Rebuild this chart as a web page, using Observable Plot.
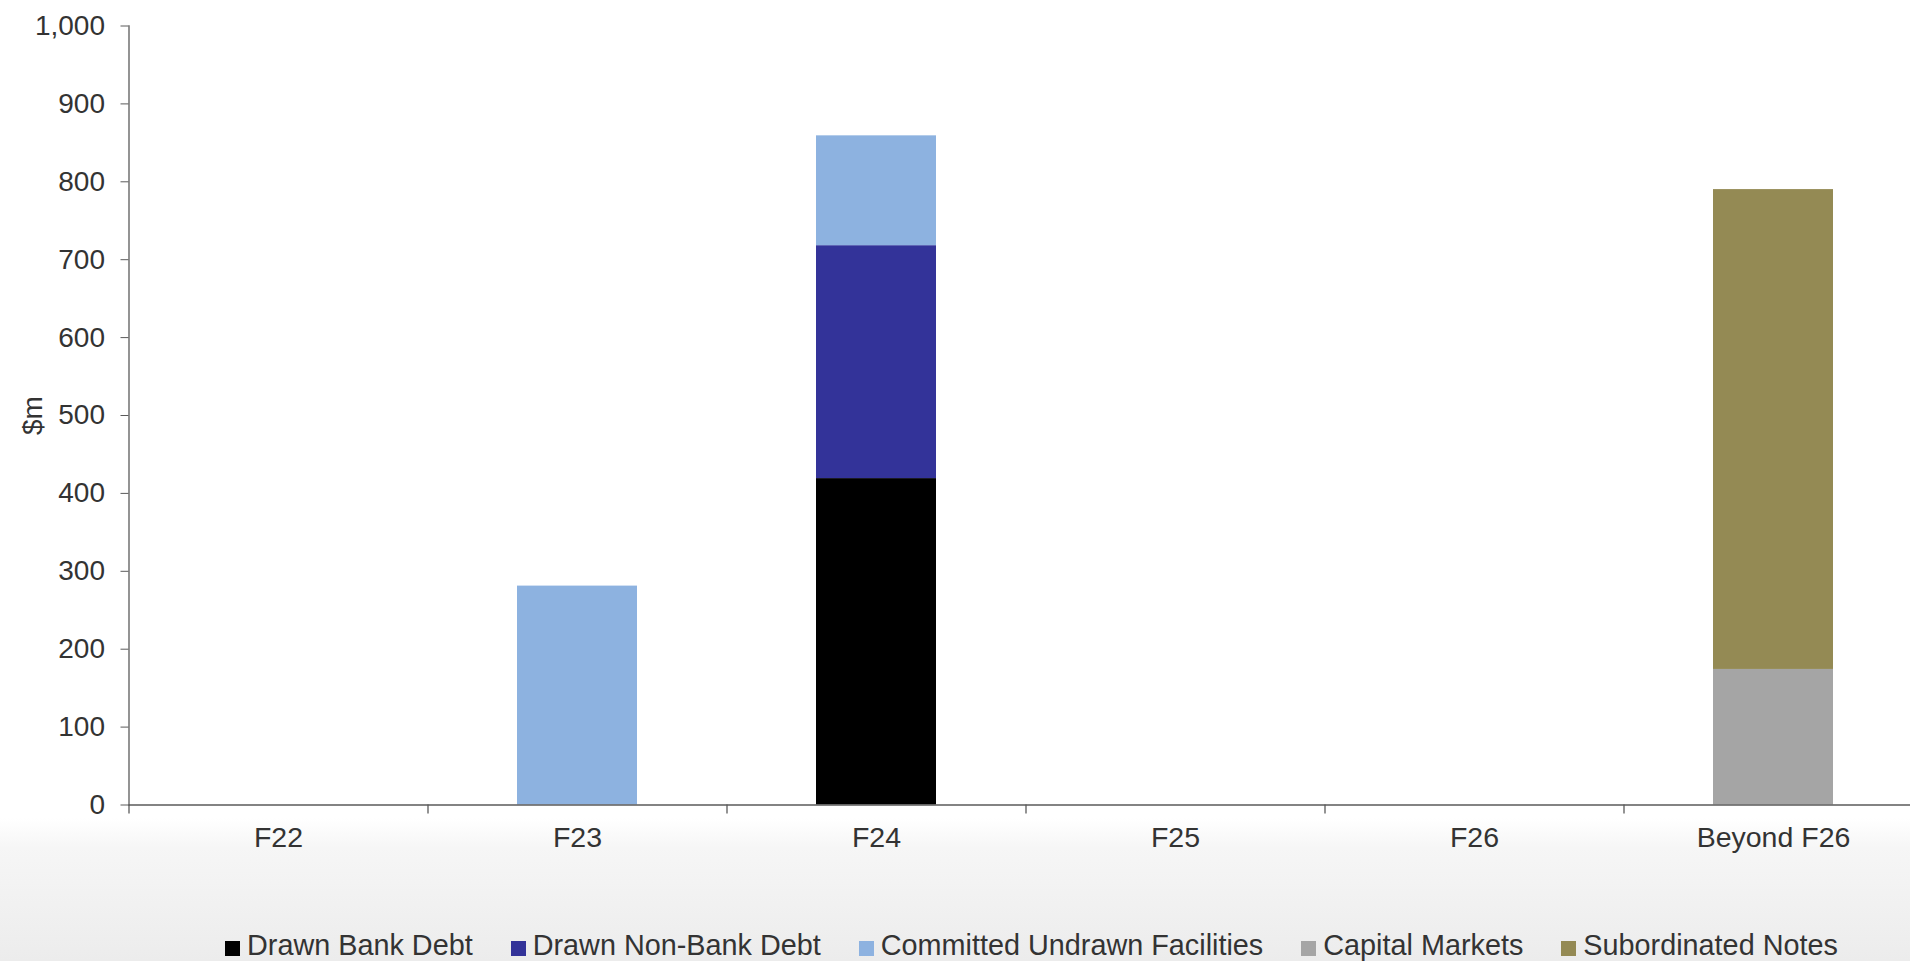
<!DOCTYPE html>
<html>
<head>
<meta charset="utf-8">
<script src="https://cdn.jsdelivr.net/npm/d3@7"></script>
<script src="https://cdn.jsdelivr.net/npm/@observablehq/plot@0.6"></script>
<style>
  html, body { margin: 0; padding: 0; width: 1910px; height: 961px; overflow: hidden; }
  body {
    position: relative;
    font-family: "Liberation Sans", Arial, sans-serif;
    background: linear-gradient(to bottom, #ffffff 0px, #ffffff 818px, #f6f6f6 848px, #ececec 961px);
  }
  #chart { position: absolute; left: 0; top: 0; }
  #legend {
    position: absolute; left: 225px; top: 929px;
    display: flex; align-items: center; gap: 38px;
    font-size: 28.8px; color: #333; white-space: nowrap;
  }
  #legend .item { display: flex; align-items: center; gap: 7px; }
  #legend .sw { width: 15px; height: 15px; display: inline-block; margin-top: 5px; }
</style>
</head>
<body>
<div id="chart"></div>
<div id="legend"></div>
<script>
const categories = ["F22", "F23", "F24", "F25", "F26", "Beyond F26"];
const series = ["Drawn Bank Debt", "Drawn Non-Bank Debt", "Committed Undrawn Facilities", "Capital Markets", "Subordinated Notes"];
const drawnBankDebt = [0, 0, 419, 0, 0, 0];
const drawnNonBankDebt = [0, 0, 299, 0, 0, 0];
const committedUndrawn = [0, 281, 141, 0, 0, 0];
const capitalMarkets = [0, 0, 0, 0, 0, 174];
const subordinatedNotes = [0, 0, 0, 0, 0, 616];
const colors = ["#000000", "#333399", "#8db2e0", "#a5a5a5", "#948a54"];
const yTicks = [0, 100, 200, 300, 400, 500, 600, 700, 800, 900, 1000];

const seriesValues = [drawnBankDebt, drawnNonBankDebt, committedUndrawn, capitalMarkets, subordinatedNotes];
const data = [];
series.forEach((s, si) => categories.forEach((c, ci) => data.push({cat: c, series: s, value: seriesValues[si][ci]})));

const width = 1923, height = 864, marginLeft = 128.5, marginRight = 0.5, marginTop = 25.5, marginBottom = 59.5;
const step = (width - marginLeft - marginRight) / categories.length;

const chart = Plot.plot({
  width, height, marginLeft, marginRight, marginTop, marginBottom,
  style: "background: transparent; max-width: none; overflow: visible; font-family: 'Liberation Sans', Arial, sans-serif; color: #333;",
  x: {domain: categories, paddingInner: 0.6, paddingOuter: 0.3, axis: null},
  y: {domain: [0, 1000], axis: null},
  color: {domain: series, range: colors},
  marks: [
    Plot.barY(data, Plot.stackY({x: "cat", y: "value", fill: "series", order: series})),
    Plot.frame({anchor: "left", stroke: "#5a5a5a", strokeWidth: 1.3}),
    Plot.ruleY([0], {stroke: "#5a5a5a", strokeWidth: 1.3}),
    Plot.ruleX(categories, {x: d => d, dx: -step / 2, stroke: "#5a5a5a", strokeWidth: 1.3, insetTop: height - marginTop - marginBottom, insetBottom: -9}),
    Plot.axisX({tickSize: 0, tickPadding: 22, fontSize: 28.5, label: null}),
    Plot.axisY({ticks: yTicks, tickSize: 8, tickPadding: 16, fontSize: 28, tickFormat: d3.format(","), stroke: "#5a5a5a",
                label: "$m", labelAnchor: "center", labelArrow: "none", labelOffset: 107})
  ]
});
chart.querySelectorAll("text").forEach(t => t.setAttribute("fill", "#333"));
document.getElementById("chart").appendChild(chart);

const legend = document.getElementById("legend");
series.forEach((s, i) => {
  const item = document.createElement("div");
  item.className = "item";
  const sw = document.createElement("span");
  sw.className = "sw";
  sw.style.background = colors[i];
  const label = document.createElement("span");
  label.textContent = s;
  item.appendChild(sw);
  item.appendChild(label);
  legend.appendChild(item);
});
</script>
</body>
</html>
